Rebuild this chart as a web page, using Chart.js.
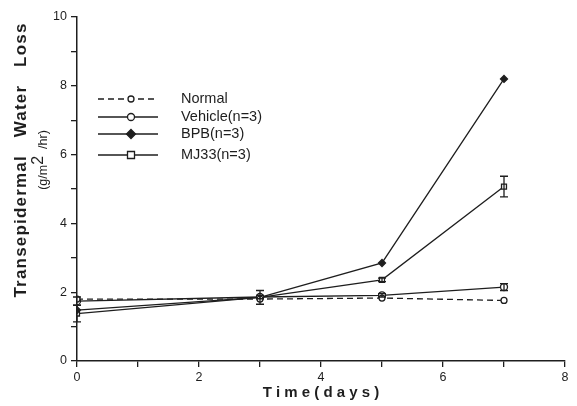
<!DOCTYPE html>
<html lang="en">
<head>
  <meta charset="UTF-8">
  <title>Transepidermal Water Loss</title>
  <script src="https://cdn.jsdelivr.net/npm/chart.js"></script>
  <style>
    html, body { margin: 0; padding: 0; background: #fff; }
    #wrap { width: 577px; height: 406px; }
  </style>
</head>
<body>
  <div id="wrap"><canvas id="myChart" width="577" height="406"></canvas></div>

  <script>
    // values
    const days = [0, 3, 5, 7];
    const normal = [1.80, 1.80, 1.83, 1.76];
    const vehicle = [1.74, 1.86, 1.91, 2.15];
    const bpb = [1.48, 1.85, 2.85, 8.2];
    const mj33 = [1.38, 1.85, 2.36, 5.07];
    const mj33Err = [0.24, 0.2, 0.05, 0.3];
    const vehicleErr = [0.12, 0.05, 0.05, 0.1];
    const xTicks = [0, 2, 4, 6, 8];
    const yTicks = [0, 2, 4, 6, 8, 10];

    const ink = '#1e1e1e';
    const font = '"Liberation Sans", Arial, sans-serif';
    const pts = (ys) => days.map((d, i) => ({ x: d, y: ys[i] }));

    const series = [
      { label: 'Normal', data: pts(normal), borderDash: [6, 4], pointStyle: 'circle', pointRadius: 3, pointBackgroundColor: '#fff' },
      { label: 'Vehicle(n=3)', data: pts(vehicle), pointStyle: 'circle', pointRadius: 3.5, pointBackgroundColor: '#fff', err: vehicleErr },
      { label: 'BPB(n=3)', data: pts(bpb), pointStyle: 'rectRot', pointRadius: 3.5, pointBackgroundColor: ink },
      { label: 'MJ33(n=3)', data: pts(mj33), pointStyle: 'rect', pointRadius: 3.5, pointBackgroundColor: '#fff', err: mj33Err }
    ];

    // error bars + legend + axis titles
    const extras = {
      id: 'extras',
      afterDatasetsDraw(chart) {
        const c = chart.ctx;
        const xs = chart.scales.x, ys = chart.scales.y;
        c.save();
        c.strokeStyle = ink;
        c.lineWidth = 1.3;
        chart.data.datasets.forEach(ds => {
          if (!ds.err) return;
          ds.data.forEach((p, i) => {
            const e = ds.err[i];
            const px = xs.getPixelForValue(p.x);
            const top = ys.getPixelForValue(p.y + e);
            const bot = ys.getPixelForValue(p.y - e);
            c.beginPath();
            c.moveTo(px, top); c.lineTo(px, bot);
            c.moveTo(px - 4, top); c.lineTo(px + 4, top);
            c.moveTo(px - 4, bot); c.lineTo(px + 4, bot);
            c.stroke();
          });
        });

        // legend
        const rows = [99, 117, 134, 155];
        chart.data.datasets.forEach((ds, i) => {
          const y = rows[i];
          c.setLineDash(ds.borderDash || []);
          c.beginPath();
          c.moveTo(98, y); c.lineTo(158, y);
          c.stroke();
          c.setLineDash([]);
          c.fillStyle = ds.pointBackgroundColor;
          const r = ds.pointRadius;
          c.beginPath();
          if (ds.pointStyle === 'circle') {
            c.arc(131, y, r, 0, Math.PI * 2);
          } else if (ds.pointStyle === 'rect') {
            c.rect(131 - r, y - r, 2 * r, 2 * r);
          } else {
            c.moveTo(131, y - r - 1); c.lineTo(131 + r + 1, y);
            c.lineTo(131, y + r + 1); c.lineTo(131 - r - 1, y);
            c.closePath();
          }
          c.fill(); c.stroke();
          c.fillStyle = ink;
          c.font = '14.5px ' + font;
          c.textBaseline = 'middle';
          c.textAlign = 'left';
          c.fillText(ds.label, 181, y);
        });

        // y axis titles
        c.fillStyle = ink;
        c.save();
        c.translate(21, 160);
        c.rotate(-Math.PI / 2);
        c.textAlign = 'center';
        c.textBaseline = 'middle';
        c.font = 'bold 17px ' + font;
        c.letterSpacing = '1.2px';
        c.fillText('Transepidermal   Water   Loss', 0, 0);
        c.restore();

        c.save();
        c.translate(44, 160);
        c.rotate(-Math.PI / 2);
        c.textBaseline = 'middle';
        c.textAlign = 'left';
        const a = '(g/m', b = '  /hr)';
        c.font = '12.5px ' + font;
        const wa = c.measureText(a).width, wb = c.measureText(b).width;
        c.font = '16px ' + font;
        const w2 = c.measureText('2').width;
        let x0 = -(wa + w2 + wb) / 2;
        c.font = '12.5px ' + font;
        c.fillText(a, x0, 0);
        c.font = '16px ' + font;
        c.fillText('2', x0 + wa, -5);
        c.font = '12.5px ' + font;
        c.fillText(b, x0 + wa + w2, 0);
        c.restore();
        c.restore();
      }
    };

    new Chart(document.getElementById('myChart').getContext('2d'), {
      type: 'line',
      data: {
        datasets: series.map(s => Object.assign({
          borderColor: ink,
          pointBorderColor: ink,
          pointBorderWidth: 1.3,
          borderWidth: 1.3,
          tension: 0,
          fill: false
        }, s))
      },
      options: {
        responsive: false,
        animation: false,
        layout: { padding: { top: 17, right: 12, left: 0, bottom: 0 } },
        plugins: { legend: { display: false }, tooltip: { enabled: false } },
        scales: {
          x: {
            type: 'linear',
            min: 0, max: 8,
            afterFit: s => { s.height = 45; },
            afterBuildTicks: s => { s.ticks = [0,1,2,3,4,5,6,7,8].map(v => ({ value: v })); },
            ticks: {
              color: ink,
              font: { size: 12.5, family: font },
              padding: 3,
              maxRotation: 0,
              callback: v => xTicks.includes(v) ? String(v) : ''
            },
            grid: { drawOnChartArea: false, drawTicks: true, tickLength: 6, color: ink, lineWidth: 1.3 },
            border: { display: true, color: ink, width: 1.5 },
            title: {
              display: true,
              text: 'T i m e ( d a y s )',
              color: ink,
              font: { size: 15, weight: 'bold', family: font },
              padding: { top: 2 }
            }
          },
          y: {
            min: 0, max: 10,
            afterFit: s => { s.width = 77; },
            afterBuildTicks: s => { s.ticks = [0,1,2,3,4,5,6,7,8,9,10].map(v => ({ value: v })); },
            ticks: {
              color: ink,
              font: { size: 12.5, family: font },
              padding: 4,
              callback: v => yTicks.includes(v) ? String(v) : ''
            },
            grid: { drawOnChartArea: false, drawTicks: true, tickLength: 6, color: ink, lineWidth: 1.3 },
            border: { display: true, color: ink, width: 1.5 }
          }
        }
      },
      plugins: [extras]
    });
  </script>
</body>
</html>
